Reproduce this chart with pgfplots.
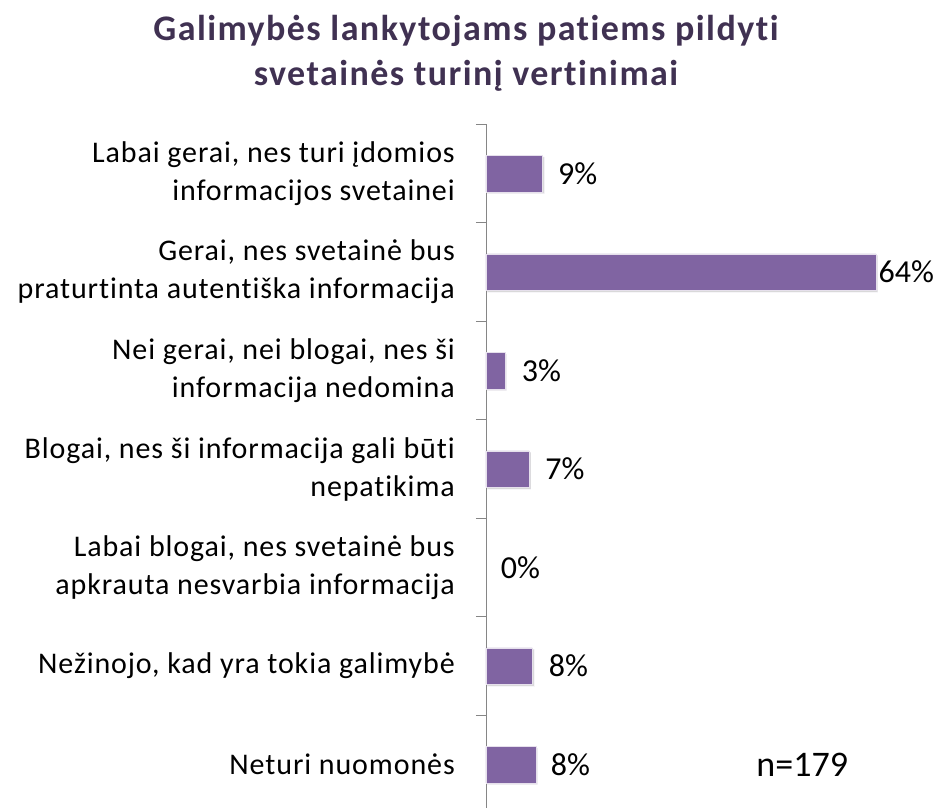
\documentclass[border=0pt]{standalone}
\usepackage{pgfplots}
\pgfplotsset{compat=1.18}
\usepackage{fontspec}
\setmainfont{Carlito}[Ligatures=NoCommon]
\newfontfamily\labfont{Carlito}[Ligatures=NoCommon, LetterSpace=3]
\newfontfamily\titfont{Carlito}[Ligatures=NoCommon, LetterSpace=4]
\usetikzlibrary{shadows}
\definecolor{barc}{HTML}{8064A2}
\definecolor{titc}{HTML}{403152}
\definecolor{axc}{HTML}{868686}
\begin{document}
\begin{tikzpicture}
\path[use as bounding box] (-486pt,6.8pt) rectangle (451pt,813.8pt);
\begin{axis}[
  at={(0,0)}, anchor=south west,
  scale only axis, width=426.6pt, height=689.5pt,
  xmin=0, xmax=70, ymin=-0.5, ymax=6.5, y dir=reverse,
  axis x line=none, axis y line*=left,
  axis line style={axc, line width=0.8pt},
  ytick={0,...,6},
  yticklabels={
    {Labai gerai, nes turi įdomios\\informacijos svetainei},
    {Gerai, nes svetainė bus\\praturtinta autentiška informacija},
    {Nei gerai, nei blogai, nes ši\\informacija nedomina},
    {Blogai, nes ši informacija gali būti\\nepatikima},
    {Labai blogai, nes svetainė bus\\apkrauta nesvarbia informacija},
    {Nežinojo, kad yra tokia galimybė},
    {Neturi nuomonės}},
  major tick length=0pt,
  extra y ticks={-0.5,0.5,...,6.5},
  extra y tick labels={},
  extra y tick style={major tick length=10pt, tick align=outside, tick style={axc, line width=0.8pt}},
  yticklabel style={align=right, font=\labfont\fontsize{30}{38}\selectfont,
    execute at begin node={\baselineskip=38pt\relax}, inner sep=0pt, xshift=-31pt},
  clip=false,
]
\addplot[xbar, bar width=36.5pt, fill=barc, draw=white!80!barc, line width=0.6pt,
  drop shadow={shadow xshift=1.5pt, shadow yshift=-1.5pt, opacity=0.3}]
  coordinates {(9.3,0) (64,1) (3.1,2) (7.1,3) (7.6,5) (8.2,6)};
\addplot[only marks, mark=none, nodes near coords, point meta=explicit symbolic,
  nodes near coords style={anchor=west, inner sep=0pt, font=\fontsize{32}{38}\selectfont}]
  coordinates {(11.8,0)[9\%] (64.4,1)[64\%] (5.85,2)[3\%] (9.7,3)[7\%] (2.4,4)[0\%] (10.3,5)[8\%] (10.6,6)[8\%]};
\node[font=\fontsize{36}{40}\selectfont] at (axis cs:51.9,6) {n=179};
\end{axis}
\node[align=center, text=titc, font=\titfont\fontsize{36}{45}\selectfont\bfseries] at (-20pt,761pt)
  {Galimybės lankytojams patiems pildyti\\svetainės turinį vertinimai};
\end{tikzpicture}
\end{document}
